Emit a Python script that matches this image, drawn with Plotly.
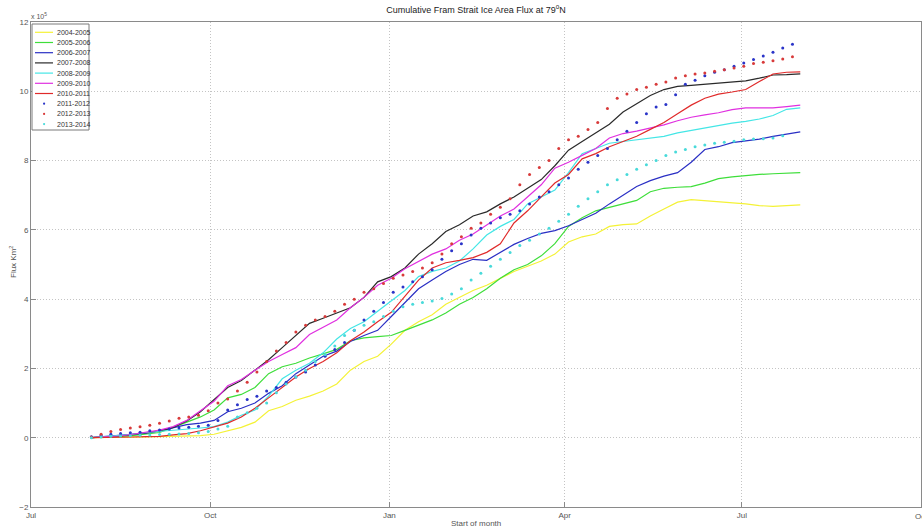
import pandas as pd
import plotly.graph_objects as go

# ---------------- data ----------------
season_start = "2004-08-01"      # all seasons mapped onto one Jul..Oct dummy year
line_step = "7D"
dot_step = "5D"

series_names = ["2004-2005", "2005-2006", "2006-2007", "2007-2008", "2008-2009",
                "2009-2010", "2010-2011", "2011-2012", "2012-2013", "2013-2014"]

y_2004 = [0.0, 0.0, 0.01, 0.01, 0.02, 0.03, 0.04, 0.05, 0.06, 0.1,
          0.2, 0.3, 0.45, 0.78, 0.9, 1.08, 1.2, 1.35, 1.55, 1.95,
          2.2, 2.35, 2.7, 3.1, 3.35, 3.55, 3.85, 4.05, 4.25, 4.4,
          4.6, 4.8, 4.95, 5.1, 5.3, 5.65, 5.8, 5.88, 6.1, 6.15,
          6.17, 6.4, 6.6, 6.8, 6.87, 6.84, 6.8, 6.79, 6.75, 6.7,
          6.68, 6.7, 6.72]
y_2005 = [0.0, 0.01, 0.03, 0.06, 0.1, 0.15, 0.3, 0.46, 0.6, 0.8,
          1.15, 1.25, 1.45, 1.85, 2.05, 2.15, 2.3, 2.42, 2.55, 2.8,
          2.88, 2.92, 2.95, 3.1, 3.25, 3.4, 3.6, 3.85, 4.05, 4.3,
          4.6, 4.85, 5.0, 5.25, 5.6, 6.1, 6.35, 6.55, 6.65, 6.75,
          6.85, 7.1, 7.2, 7.23, 7.25, 7.35, 7.48, 7.53, 7.57, 7.6,
          7.62, 7.64, 7.65]
y_2006 = [0.0, 0.03, 0.08, 0.1, 0.13, 0.2, 0.3, 0.38, 0.42, 0.5,
          0.75, 0.85, 1.0, 1.28, 1.5, 1.85, 2.1, 2.35, 2.5, 2.78,
          2.95, 3.1, 3.5, 3.9, 4.3, 4.55, 4.8, 5.0, 5.15, 5.12,
          5.35, 5.58, 5.75, 5.9, 5.98, 6.12, 6.3, 6.48, 6.75, 7.0,
          7.25, 7.42, 7.55, 7.65, 7.95, 8.32, 8.4, 8.52, 8.57, 8.62,
          8.7, 8.76, 8.83]
y_2007 = [0.0, 0.02, 0.05, 0.09, 0.14, 0.2, 0.3, 0.48, 0.75, 1.1,
          1.45, 1.65, 1.95, 2.25, 2.6, 2.95, 3.3, 3.45, 3.6, 3.75,
          4.05, 4.5, 4.65, 4.9, 5.3, 5.6, 5.95, 6.15, 6.4, 6.52,
          6.75, 6.95, 7.2, 7.45, 7.85, 8.3, 8.55, 8.8, 9.05, 9.4,
          9.65, 9.88, 10.05, 10.14, 10.17, 10.2, 10.22, 10.26, 10.3, 10.38,
          10.47, 10.48, 10.5]
y_2008 = [0.0, 0.03, 0.06, 0.1, 0.15, 0.18, 0.2, 0.24, 0.28, 0.32,
          0.45, 0.65, 0.8, 1.2, 1.7, 1.95, 2.15, 2.45, 2.85, 3.15,
          3.35, 3.65, 3.95, 4.25, 4.65, 4.8, 4.9, 5.1, 5.45, 5.85,
          6.1, 6.3, 6.75, 6.95, 7.15, 7.65, 8.2, 8.35, 8.5, 8.55,
          8.6, 8.64, 8.7, 8.8, 8.87, 8.96, 9.02, 9.08, 9.13, 9.2,
          9.3, 9.48, 9.52]
y_2009 = [0.0, 0.02, 0.05, 0.1, 0.15, 0.22, 0.32, 0.5, 0.78, 1.05,
          1.5, 1.68, 1.95, 2.2, 2.4, 2.6, 2.98, 3.2, 3.4, 3.75,
          4.05, 4.4, 4.6, 4.88, 5.1, 5.3, 5.45, 5.7, 5.88, 6.15,
          6.4, 6.6, 6.95, 7.3, 7.78, 7.95, 8.15, 8.35, 8.65, 8.78,
          8.85, 8.93, 9.03, 9.15, 9.25, 9.32, 9.38, 9.47, 9.52, 9.52,
          9.52, 9.56, 9.6]
y_2010 = [0.0, 0.0, 0.01, 0.02, 0.03, 0.04, 0.08, 0.12, 0.2, 0.3,
          0.42, 0.6, 0.85, 1.15, 1.45, 1.75, 2.0, 2.2, 2.45, 2.8,
          3.05, 3.35, 3.62, 4.1, 4.55, 4.9, 5.05, 5.12, 5.2, 5.35,
          5.6, 6.2, 6.55, 6.95, 7.35, 7.6, 8.05, 8.2, 8.4, 8.55,
          8.7, 8.9, 9.1, 9.35, 9.6, 9.8, 9.92, 9.98, 10.05, 10.28,
          10.5, 10.55, 10.56]
y_2011 = [0.03, 0.07, 0.1, 0.12, 0.14, 0.16, 0.2, 0.22, 0.25, 0.28,
          0.3, 0.33, 0.36, 0.5, 0.8, 0.95, 1.1, 1.2, 1.35, 1.45,
          1.6, 1.75, 1.9, 2.1, 2.35, 2.55, 2.75, 3.1, 3.4, 3.65,
          3.9, 4.2, 4.35, 4.5, 4.65, 4.85, 5.15, 5.4, 5.6, 5.85,
          6.05, 6.2, 6.35, 6.45, 6.55, 6.75, 6.95, 7.1, 7.3, 7.5,
          7.75, 7.95, 8.15, 8.35, 8.6, 8.85, 9.1, 9.35, 9.55, 9.62,
          9.9, 10.2, 10.32, 10.45, 10.55, 10.62, 10.72, 10.82, 10.92, 11.02,
          11.13, 11.25, 11.36]
y_2012 = [0.02, 0.1, 0.18, 0.24, 0.28, 0.32, 0.36, 0.42, 0.48, 0.56,
          0.6, 0.65, 0.78, 1.0, 1.12, 1.35, 1.6, 1.9, 2.2, 2.5,
          2.75, 3.05, 3.25, 3.4, 3.5, 3.65, 3.85, 4.0, 4.2, 4.3,
          4.45, 4.6, 4.7, 4.8, 4.9, 5.05, 5.3, 5.6, 5.8, 6.05,
          6.2, 6.45, 6.65, 6.9, 7.3, 7.6, 7.8, 8.0, 8.35, 8.6,
          8.7, 8.9, 9.1, 9.5, 9.8, 9.92, 10.05, 10.12, 10.2, 10.27,
          10.38, 10.45, 10.5, 10.53, 10.58, 10.62, 10.67, 10.72, 10.8, 10.84,
          10.88, 10.93, 11.0]
y_2013 = [0.0, 0.02, 0.04, 0.05, 0.06, 0.07, 0.08, 0.09, 0.1, 0.11,
          0.12, 0.14, 0.18, 0.25, 0.33, 0.6, 0.72, 0.85, 1.0, 1.3,
          1.55, 1.75, 1.95, 2.2, 2.4, 2.65, 2.95, 3.1, 3.25, 3.35,
          3.5, 3.65, 3.78, 3.85, 3.9, 3.95, 4.02, 4.15, 4.3, 4.55,
          4.75, 4.95, 5.15, 5.35, 5.55, 5.7, 5.88, 6.05, 6.25, 6.45,
          6.68, 6.9, 7.1, 7.3, 7.45, 7.6, 7.75, 7.88, 8.0, 8.15,
          8.25, 8.32, 8.4, 8.45, 8.5, 8.53, 8.56, 8.6, 8.62, 8.63,
          8.65, 8.72]

x_tick_dates = ["2004-07-01", "2004-10-01", "2005-01-01", "2005-04-01", "2005-07-01", "2005-10-01"]
x_tick_labels = ["Jul", "Oct", "Jan", "Apr", "Jul", "Oct"]
y_tick_values = [-2, 0, 2, 4, 6, 8, 10, 12]

# ---------------- styles ----------------
series_values = [y_2004, y_2005, y_2006, y_2007, y_2008, y_2009, y_2010, y_2011, y_2012, y_2013]
series_kind = ["line"] * 7 + ["dots"] * 3
series_colors = ["#f4f236", "#3ede3a", "#2a2fc4", "#2a2a2a", "#44e6e6", "#e030e0", "#e02a2a",
                 "#2a34c8", "#d83a3a", "#48dada"]

W, H = 922, 529
ML, MR, MT, MB = 31, 1, 22, 22
PW, PH = W - ML - MR, H - MT - MB
FONT = "Liberation Sans, Arial, sans-serif"


def px_x(px):
    return (px - ML) / PW


def px_y(py):
    return (H - MB - py) / PH


fig = go.Figure()
for name, vals, kind, col in zip(series_names, series_values, series_kind, series_colors):
    if kind == "line":
        dates = pd.date_range(season_start, periods=len(vals), freq=line_step)
        fig.add_trace(go.Scatter(x=dates, y=vals, mode="lines", name=name,
                                 line=dict(color=col, width=1.2), showlegend=False))
    else:
        dates = pd.date_range(season_start, periods=len(vals), freq=dot_step)
        fig.add_trace(go.Scatter(x=dates, y=vals, mode="markers", name=name,
                                 marker=dict(color=col, size=3), showlegend=False))

# ---------------- manual legend (MATLAB style) ----------------
shapes = [dict(type="rect", xref="paper", yref="paper",
               x0=px_x(32), x1=px_x(89), y0=px_y(130), y1=px_y(24),
               line=dict(color="#7a7a7a", width=1), fillcolor="white", layer="above")]
annotations = []
for i, (name, kind, col) in enumerate(zip(series_names, series_kind, series_colors)):
    ry = 32.3 + i * 10.2
    if kind == "line":
        shapes.append(dict(type="line", xref="paper", yref="paper",
                           x0=px_x(35), x1=px_x(53), y0=px_y(ry), y1=px_y(ry),
                           line=dict(color=col, width=1.2), layer="above"))
    else:
        shapes.append(dict(type="circle", xref="paper", yref="paper",
                           x0=px_x(43), x1=px_x(45.2), y0=px_y(ry + 1.1), y1=px_y(ry - 1.1),
                           line=dict(color=col, width=0), fillcolor=col, layer="above"))
    annotations.append(dict(text=name, xref="paper", yref="paper", x=px_x(55), y=px_y(ry),
                            xanchor="left", yanchor="middle", showarrow=False,
                            font=dict(family=FONT, size=7, color="#333333")))

annotations += [
    dict(text="x 10<sup>5</sup>", xref="paper", yref="paper", x=px_x(29), y=px_y(16),
         xanchor="left", yanchor="middle", showarrow=False,
         font=dict(family=FONT, size=7, color="#555555")),
    dict(text="Flux Km<sup>2</sup>", xref="paper", yref="paper", x=px_x(13), y=px_y(262),
         xanchor="center", yanchor="middle", showarrow=False, textangle=-90,
         font=dict(family=FONT, size=8, color="#555555")),
    dict(text="Start of month", xref="paper", yref="paper", x=px_x(476), y=px_y(523),
         xanchor="center", yanchor="middle", showarrow=False,
         font=dict(family=FONT, size=8, color="#555555")),
    # last "Oct" tick label sits on the right edge and is cut off, as in the reference
    dict(text=x_tick_labels[-1], xref="x", yref="paper", x=x_tick_dates[-1], y=px_y(516),
         xanchor="center", yanchor="middle", showarrow=False,
         font=dict(family=FONT, size=8, color="#555555")),
]

axis_common = dict(showgrid=True, gridcolor="#c4c4c4", griddash="1px,2px", gridwidth=1,
                   showline=True, linecolor="#8a8a8a", linewidth=1, mirror=True,
                   ticks="inside", ticklen=5, tickcolor="#8a8a8a",
                   tickfont=dict(family=FONT, size=8, color="#555555"), zeroline=False)

fig.update_layout(
    width=W, height=H,
    margin=dict(l=ML, r=MR, t=MT, b=MB, autoexpand=False),
    paper_bgcolor="white", plot_bgcolor="white",
    title=dict(text="Cumulative Fram Strait Ice Area Flux at 79<sup>o</sup>N",
               x=px_x(476), xref="paper", xanchor="center",
               y=1 - 10 / H, yref="container", yanchor="middle",
               font=dict(family=FONT, size=9, color="#222222")),
    xaxis=dict(type="date", range=["2004-07-01", "2005-10-01"],
               tickmode="array", tickvals=x_tick_dates, ticktext=x_tick_labels, **axis_common),
    yaxis=dict(range=[-2, 12], tickmode="array", tickvals=y_tick_values, **axis_common),
    shapes=shapes, annotations=annotations, showlegend=False,
)

fig.write_html("out.html", config={"displayModeBar": False},
               post_script="document.body.style.margin='0px';document.body.style.padding='0px';")
